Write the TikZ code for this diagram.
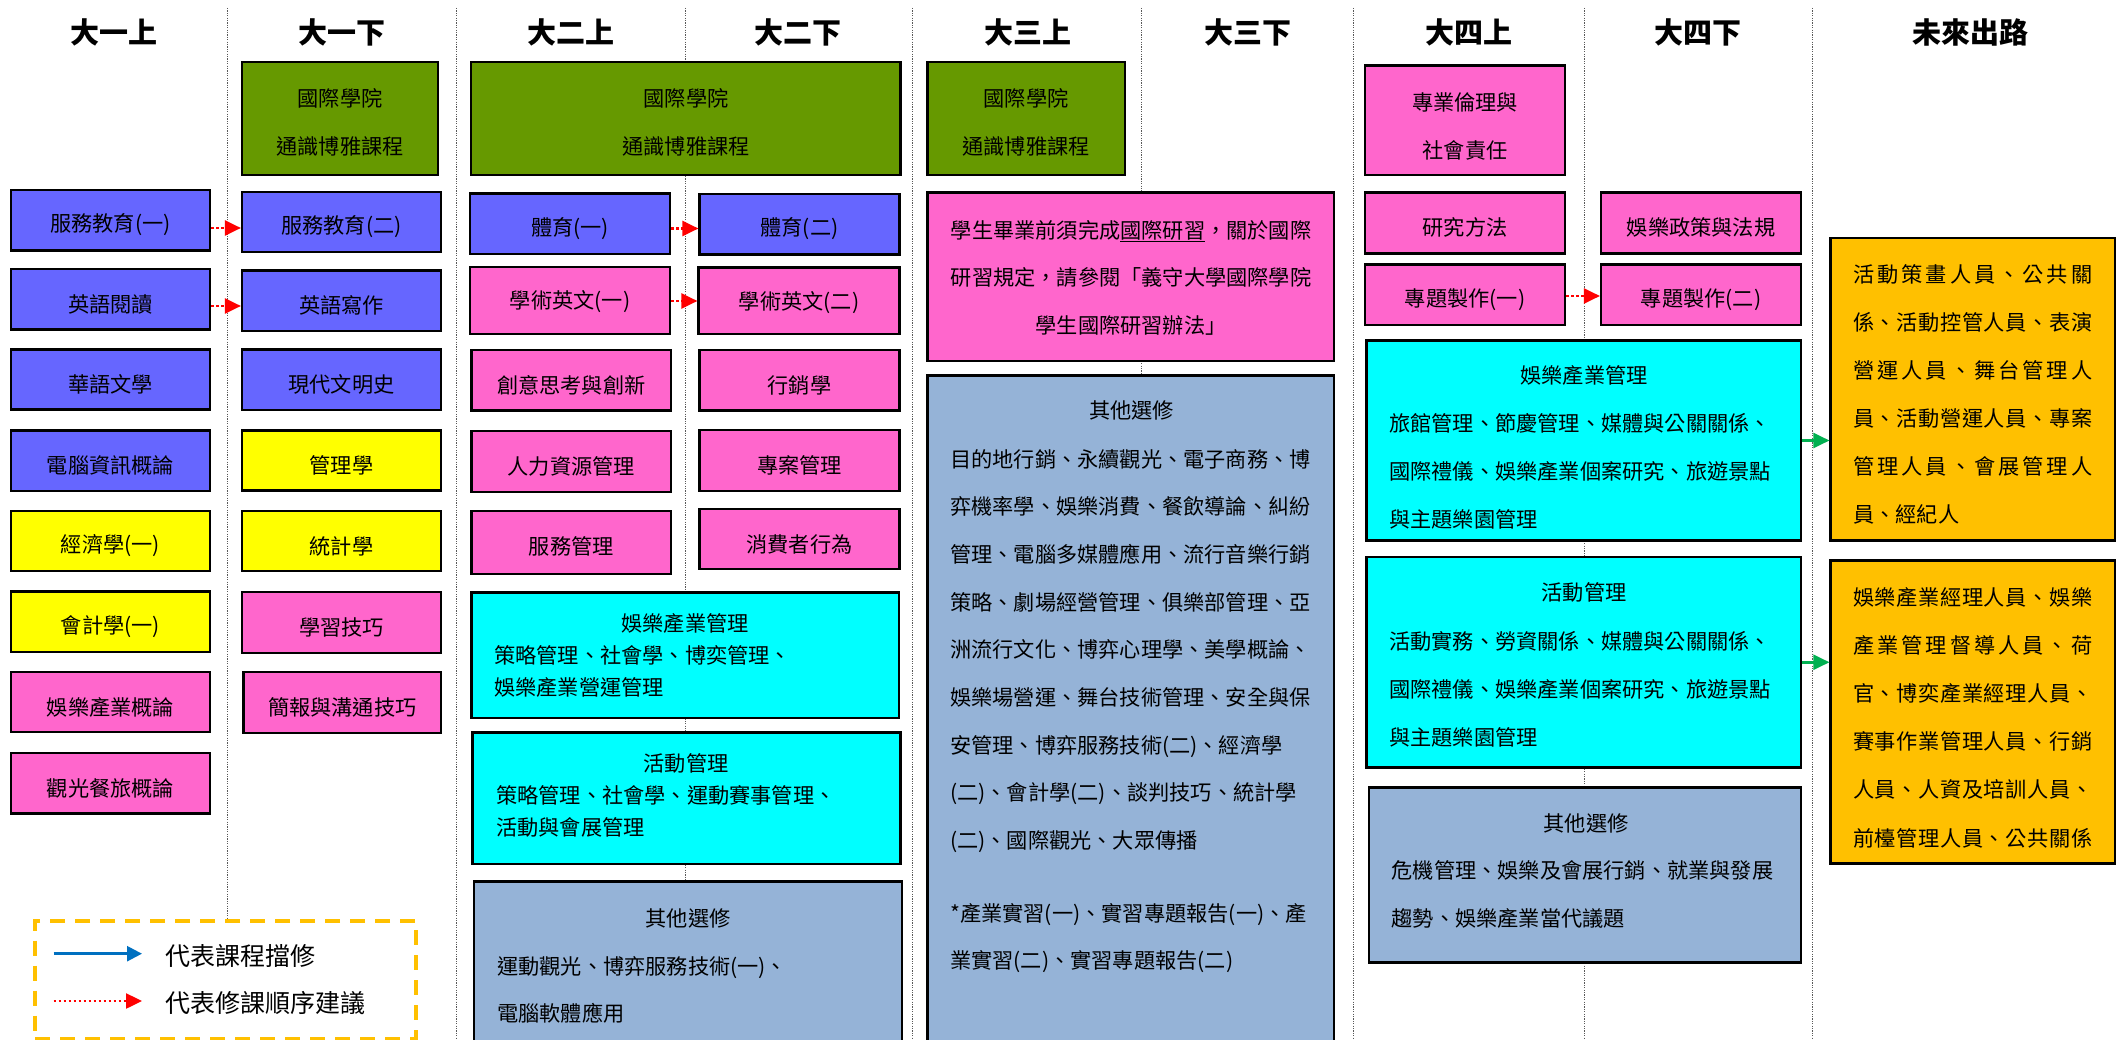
\documentclass[tikz,border=0pt]{standalone}
\usepackage{fontspec}
\setmainfont{Noto Sans CJK TC}
\usetikzlibrary{arrows.meta,calc}

\definecolor{cblue}{HTML}{6666FF}
\definecolor{cpink}{HTML}{FF66CC}
\definecolor{cyel}{HTML}{FFFF00}
\definecolor{cgreen}{HTML}{669900}
\definecolor{ccyan}{HTML}{00FFFF}
\definecolor{cgray}{HTML}{95B3D7}
\definecolor{corange}{HTML}{FFC000}
\definecolor{arrblue}{HTML}{0070C0}
\definecolor{arrgreen}{HTML}{00B050}

\newlength\jw
\setlength\jw{239pt}
\newcommand\jline[1]{\makebox[\jw][s]{\jfirst#1\relax}}
\def\jfirst#1{#1\jrest}
\def\jrest#1{\ifx\relax#1\else\hfil#1\expandafter\jrest\fi}

\tikzset{
  cbox/.style={draw=black, line width=2.2pt, inner sep=0pt, rectangle},
  txt/.style={inner sep=0pt, font=\fontsize{21.2}{48}\selectfont},
  bodytxt/.style={txt, anchor=base west, align=left, text width=420},
  semhead/.style={inner sep=0pt, font=\fontsize{29}{30}\selectfont\bfseries},
  legtxt/.style={inner sep=0pt, font=\fontsize{25}{30}\selectfont, anchor=west},
  divider/.style={line width=1pt, gray!70!black, dash pattern=on 1.2pt off 1.2pt},
  seqarrow/.style={red, line width=2.5pt, dash pattern=on 2.5pt off 2.5pt, -{Triangle[length=16pt,width=15pt]}},
  prereq/.style={arrblue, line width=2.5pt, -{Triangle[length=15pt,width=15pt]}},
  career/.style={arrgreen, line width=2.5pt, -{Triangle[length=16pt,width=15pt]}},
  legframe/.style={draw=corange, line width=4pt, dash pattern=on 15pt off 10pt, fill=white, inner sep=0pt},
}

% name, colour, x1, y1, x2, y2, text
\newcommand\course[7]{%
  \node[cbox, fill=#2, minimum width={#5-#3}, minimum height={#6-#4}] (#1) at ({(#3+#5)/2},{(#4+#6)/2}) {};
  \node[txt] (#1-t) at ({(#3+#5)/2},{#4+35}) {#7};}
% name, colour, x1, y1, x2, y2
\newcommand\bigbox[6]{%
  \node[cbox, fill=#2, minimum width={#5-#3}, minimum height={#6-#4}] (#1) at ({(#3+#5)/2},{(#4+#6)/2}) {};}

\begin{document}
\begin{tikzpicture}[x=1pt,y=-1pt]
\fill[white] (0,0) rectangle (2123,1040);
\useasboundingbox (0,0) rectangle (2123,1040);

% column dividers
\foreach \dx in {227.5,456,685,912.5,1141,1353,1584,1812.5}{\draw[divider] (\dx,8) -- (\dx,1040);}

% headers
\node[semhead] (h11) at (113.5,32) {大一上};
\node[semhead] (h12) at (341.5,32) {大一下};
\node[semhead] (h21) at (571,32) {大二上};
\node[semhead] (h22) at (798,32) {大二下};
\node[semhead] (h31) at (1028,32) {大三上};
\node[semhead] (h32) at (1247.5,32) {大三下};
\node[semhead] (h41) at (1469,32) {大四上};
\node[semhead] (h42) at (1698,32) {大四下};
\node[semhead] (hf) at (1970.5,32) {未來出路};

% ---- 大一上
\course{s1}{cblue}{11}{190}{210}{250.5}{服務教育(一)}
\course{e1}{cblue}{11}{269}{210}{329.5}{英語閱讀}
\course{c1a}{cblue}{11}{349.5}{210}{409.5}{華語文學}
\course{c1b}{cblue}{11}{430.5}{210}{491}{電腦資訊概論}
\course{c1c}{cyel}{11}{511}{210}{571}{經濟學(一)}
\course{c1d}{cyel}{11}{591.5}{210}{652}{會計學(一)}
\course{c1e}{cpink}{11}{672}{210}{732}{娛樂產業概論}
\course{c1f}{cpink}{11}{753}{210}{813.5}{觀光餐旅概論}

% ---- 大一下
\bigbox{g1}{cgreen}{242}{62}{438}{175}
\node[txt, align=center] (g1-t) at (340,122.5) {國際學院\\通識博雅課程};
\course{s2}{cblue}{242}{192}{441}{252}{服務教育(二)}
\course{e2}{cblue}{242}{270.5}{441}{331}{英語寫作}
\course{c2a}{cblue}{242}{349.5}{441}{410}{現代文明史}
\course{c2b}{cyel}{242}{430.5}{441}{490.5}{管理學}
\course{c2c}{cyel}{242}{511}{441}{571}{統計學}
\course{c2d}{cpink}{242}{592}{441}{653}{學習技巧}
\course{c2e}{cpink}{243.5}{672}{441}{733}{簡報與溝通技巧}

% ---- 大二
\bigbox{g2}{cgreen}{471}{62}{900.5}{175}
\node[txt, align=center] (g2-t) at (686,122.5) {國際學院\\通識博雅課程};
\course{p1}{cblue}{470}{193.5}{670}{254}{體育(一)}
\course{a1}{cpink}{470}{267}{670}{334}{學術英文(一)}
\course{c3a}{cpink}{471.5}{350}{671}{410.5}{創意思考與創新}
\course{c3b}{cpink}{471.5}{431}{671}{492}{人力資源管理}
\course{c3c}{cpink}{471.5}{511}{671}{574}{服務管理}
\course{p2}{cblue}{699.5}{194}{899.5}{254.5}{體育(二)}
\course{a2}{cpink}{698.5}{267.5}{899.5}{334}{學術英文(二)}
\course{c4a}{cpink}{699.5}{350}{899.5}{410.5}{行銷學}
\course{c4b}{cpink}{699.5}{430}{899.5}{491}{專案管理}
\course{c4c}{cpink}{699.5}{509}{899.5}{569}{消費者行為}

\bigbox{m2}{ccyan}{471.5}{592.5}{899}{718}
\node[txt] (m2-h) at (685,623) {娛樂產業管理};
\node[bodytxt, font=\fontsize{21.2}{32}\selectfont] (m2-b) at (494,663.7) {策略管理、社會學、博奕管理、\\娛樂產業營運管理};

\bigbox{v2}{ccyan}{472.5}{732.5}{900.5}{864}
\node[txt] (v2-h) at (686,763.3) {活動管理};
\node[bodytxt, font=\fontsize{21.2}{32}\selectfont] (v2-b) at (496,803.7) {策略管理、社會學、運動賽事管理、\\活動與會展管理};

\bigbox{o2}{cgray}{474}{881.5}{902}{1060}
\node[txt] (o2-h) at (688,918.3) {其他選修};
\node[bodytxt, font=\fontsize{21.2}{47.3}\selectfont] (o2-b) at (497,974) {運動觀光、博弈服務技術(一)、\\電腦軟體應用};

% ---- 大三
\bigbox{g3}{cgreen}{927.5}{62}{1125}{175}
\node[txt, align=center] (g3-t) at (1026,122.5) {國際學院\\通識博雅課程};

\bigbox{n3}{cpink}{927.5}{192.5}{1334}{361}
\node[txt, align=center, font=\fontsize{21.2}{47.5}\selectfont] (n3-t) at (1131,277.5) {學生畢業前須完成\underline{國際研習}，關於國際\\研習規定，請參閱「義守大學國際學院\\學生國際研習辦法」};

\bigbox{o3}{cgray}{927.5}{375.5}{1334}{1060}
\node[txt] (o3-h) at (1131.5,410) {其他選修};
\node[bodytxt, font=\fontsize{21.2}{47.7}\selectfont] (o3-b) at (950,467) {目的地行銷、永續觀光、電子商務、博\\弈機率學、娛樂消費、餐飲導論、糾紛\\管理、電腦多媒體應用、流行音樂行銷\\策略、劇場經營管理、俱樂部管理、亞\\洲流行文化、博弈心理學、美學概論、\\娛樂場營運、舞台技術管理、安全與保\\安管理、博弈服務技術(二)、經濟學\\(二)、會計學(二)、談判技巧、統計學\\(二)、國際觀光、大眾傳播\\[25pt]*產業實習(一)、實習專題報告(一)、產\\業實習(二)、實習專題報告(二)};

% ---- 大四
\bigbox{eth}{cpink}{1365}{65.5}{1565}{175}
\node[txt, align=center] (eth-t) at (1465,126) {專業倫理與\\社會責任};
\course{r1}{cpink}{1365}{192.5}{1565}{253.5}{研究方法}
\course{t1}{cpink}{1365}{264.5}{1565}{325}{專題製作(一)}
\course{r2}{cpink}{1601}{192.5}{1801}{253.5}{娛樂政策與法規}
\course{t2}{cpink}{1601}{264.5}{1801}{325}{專題製作(二)}

\bigbox{m4}{ccyan}{1366.5}{340.5}{1801}{540.5}
\node[txt] (m4-h) at (1584,375.6) {娛樂產業管理};
\node[bodytxt] (m4-b) at (1389,431.8) {旅館管理、節慶管理、媒體與公關關係、\\國際禮儀、娛樂產業個案研究、旅遊景點\\與主題樂園管理};

\bigbox{v4}{ccyan}{1366.5}{557}{1801}{767.5}
\node[txt] (v4-h) at (1584,592.7) {活動管理};
\node[bodytxt] (v4-b) at (1389,649.2) {活動實務、勞資關係、媒體與公關關係、\\國際禮儀、娛樂產業個案研究、旅遊景點\\與主題樂園管理};

\bigbox{o4}{cgray}{1369}{787.5}{1801}{962.5}
\node[txt] (o4-h) at (1586,823) {其他選修};
\node[bodytxt] (o4-b) at (1391.5,878.7) {危機管理、娛樂及會展行銷、就業與發展\\趨勢、娛樂產業當代議題};

% ---- 未來出路
\bigbox{f1}{corange}{1830.5}{238}{2115}{540.5}
\node[bodytxt, text width=239] (f1-b) at (1853,282.3) {\jline{活動策畫人員、公共關}\\\jline{係、活動控管人員、表演}\\\jline{營運人員、舞台管理人}\\\jline{員、活動營運人員、專案}\\\jline{管理人員、會展管理人}\\員、經紀人};

\bigbox{f2}{corange}{1830.5}{560.5}{2115}{863.5}
\node[bodytxt, text width=239, font=\fontsize{21.2}{48.2}\selectfont] (f2-b) at (1853,605) {\jline{娛樂產業經理人員、娛樂}\\\jline{產業管理督導人員、荷}\\\jline{官、博奕產業經理人員、}\\\jline{賽事作業管理人員、行銷}\\\jline{人員、人資及培訓人員、}\\\jline{前檯管理人員、公共關係}};

% ---- sequence arrows
\coordinate (s1o) at ($(s1.east)+(0,7.75)$);
\draw[seqarrow] (s1o) -- (s1o -| s2.west);
\coordinate (e1o) at ($(e1.east)+(0,6.75)$);
\draw[seqarrow] (e1o) -- (e1o -| e2.west);
\coordinate (p1o) at ($(p1.east)+(0,4.75)$);
\draw[seqarrow] (p1o) -- (p1o -| p2.west);
\coordinate (a1o) at ($(a1.east)+(0,0.5)$);
\draw[seqarrow] (a1o) -- (a1o -| a2.west);
\coordinate (t1o) at ($(t1.east)+(0,1.25)$);
\draw[seqarrow] (t1o) -- (t1o -| t2.west);

% ---- career arrows
\draw[career] (m4.east) -- (m4.east -| f1.west);
\draw[career] (v4.east) -- (v4.east -| f2.west);

% ---- legend
\node[legframe, minimum width=381, minimum height=118] (legend) at (225.5,979.5) {};
\coordinate (lb1) at (53.6,953.7);
\coordinate (lb2) at (142,953.7);
\draw[prereq] (lb1) -- (lb2);
\node[legtxt] (lt1) at (165,956) {代表課程擋修};
\coordinate (lr1) at (53.6,1001);
\coordinate (lr2) at (142,1001);
\draw[seqarrow] (lr1) -- (lr2);
\node[legtxt] (lt2) at (165,1003) {代表修課順序建議};
\end{tikzpicture}
\end{document}
